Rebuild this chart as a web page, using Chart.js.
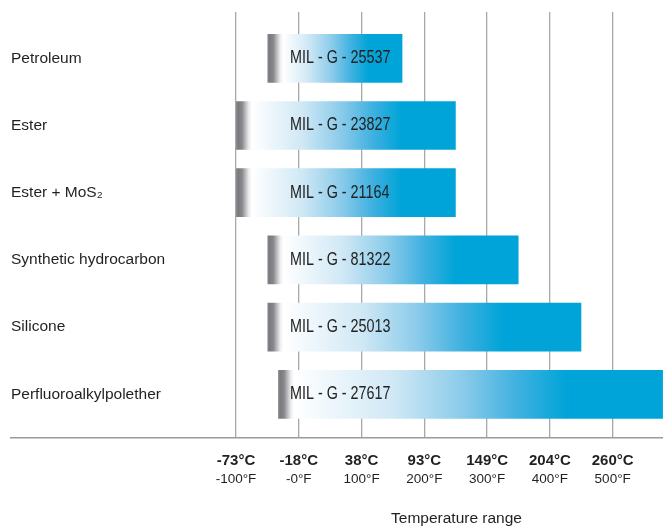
<!DOCTYPE html>
<html><head><meta charset="utf-8">
<script src="https://cdn.jsdelivr.net/npm/chart.js@4"></script>
<style>
html,body{margin:0;padding:0;overflow:hidden;background:#fff;width:663px;height:527px}
#wrap{position:absolute;left:0;top:0;width:902px;height:527px}
</style></head>
<body><div id="wrap"><canvas id="c"></canvas></div>
<script>
// ---- data ----
const categories = ['Petroleum','Ester','Ester + MoS₂','Synthetic hydrocarbon','Silicone','Perfluoroalkylpolether'];
const specs = ['MIL - G - 25537','MIL - G - 23827','MIL - G - 21164','MIL - G - 81322','MIL - G - 25013','MIL - G - 27617'];
const lowF  = [-50, -100, -100, -50, -50, -33];
const highF = [165, 250, 250, 350, 450, 580];
const tickF = [-100, 0, 100, 200, 300, 400, 500];
const tickCLabels = ['-73°C','-18°C','38°C','93°C','149°C','204°C','260°C'];
const tickFLabels = ['-100°F','-0°F','100°F','200°F','300°F','400°F','500°F'];
const axisTitle = 'Temperature range';

// ---- style ----
const REG = '"Liberation Sans", Arial, sans-serif';
const TEXT = '#231f20';
const BLUE = '#00a4d8';
const X_MIN = -458.4, X_MAX = 960.8, LABEL_AT = -14;

function barFill(c){
  const chart = c.chart;
  if (!chart.chartArea || !c.raw) return BLUE;
  const xs = chart.scales.x;
  const v = c.raw.x;
  const x0 = xs.getPixelForValue(v[0]), x1 = xs.getPixelForValue(v[1]);
  const w = x1 - x0;
  const f = px => Math.min(0.2, px / w);
  const g = chart.ctx.createLinearGradient(x0, 0, x1, 0);
  g.addColorStop(0, '#909094');
  g.addColorStop(f(2), '#7a7a7e');
  g.addColorStop(f(6), '#88888c');
  g.addColorStop(f(10), '#c4c4c7');
  g.addColorStop(f(13), '#eeeef0');
  g.addColorStop(f(16), '#ffffff');
  g.addColorStop(0.30, '#d0e8f5');
  g.addColorStop(0.48, '#8acbea');
  g.addColorStop(0.62, '#40b1e0');
  g.addColorStop(0.75, BLUE);
  g.addColorStop(1, BLUE);
  return g;
}

const barLabels = {
  id: 'barLabels',
  afterDatasetsDraw(chart){
    const meta = chart.getDatasetMeta(0);
    const ctx = chart.ctx, xs = chart.scales.x;
    const sx = 0.82;
    ctx.save();
    ctx.font = '17.5px ' + REG;
    ctx.fillStyle = '#222222';
    ctx.textAlign = 'left';
    ctx.textBaseline = 'middle';
    meta.data.forEach((bar, i) => {
      const x = xs.getPixelForValue(LABEL_AT);
      ctx.save();
      ctx.translate(x, bar.y);
      ctx.scale(sx, 1);
      ctx.fillText(specs[i], 0, 0);
      ctx.restore();
    });
    ctx.restore();
  }
};

const setTicks = s => { s.ticks = tickF.map(v => ({value: v})); };

new Chart(document.getElementById('c'), {
  type: 'bar',
  data: {
    datasets: [{
      data: categories.map((c, i) => ({y: i, x: [lowF[i], highF[i]]})),
      backgroundColor: barFill,
      borderWidth: 0,
      barPercentage: 0.725,
      categoryPercentage: 1,
      xAxisID: 'x', yAxisID: 'y'
    }]
  },
  options: {
    indexAxis: 'y',
    responsive: true,
    maintainAspectRatio: false,
    animation: false,
    layout: {padding: {left: 11, right: 0, top: 12, bottom: 0}},
    plugins: {legend: {display: false}, tooltip: {enabled: false}},
    scales: {
      y: {
        type: 'linear', reverse: true, offset: false, min: -0.689, max: 5.65,
        afterBuildTicks: s => { s.ticks = categories.map((_, i) => ({value: i})); },
        grid: {display: false, drawTicks: false}, border: {display: false},
        ticks: {mirror: true, crossAlign: 'near', padding: 0, color: TEXT,
          font: {family: REG, size: 15.5}, callback: v => categories[v]}
      },
      x: {
        type: 'linear', position: 'bottom', min: X_MIN, max: X_MAX, weight: 0,
        afterBuildTicks: setTicks,
        grid: {color: '#a8a8a8', lineWidth: 1.3, drawTicks: false},
        border: {display: true, color: '#9a9a9a', width: 1.5},
        ticks: {padding: 14, color: TEXT, maxRotation: 0, autoSkip: false,
          font: {family: REG, size: 15, weight: 'bold'},
          callback: v => tickCLabels[tickF.indexOf(v)]}
      },
      xF: {
        type: 'linear', position: 'bottom', min: X_MIN, max: X_MAX, weight: 1,
        afterBuildTicks: setTicks,
        grid: {display: false, drawTicks: false}, border: {display: false},
        ticks: {mirror: true, padding: -3.1, color: TEXT, maxRotation: 0, autoSkip: false,
          font: {family: REG, size: 13.5},
          callback: v => tickFLabels[tickF.indexOf(v)]},
        title: {display: true, text: axisTitle, color: TEXT,
          font: {family: REG, size: 15.5}, padding: {top: 32.1, bottom: -1.5}}
      }
    }
  },
  plugins: [barLabels]
});
</script>
</body></html>
